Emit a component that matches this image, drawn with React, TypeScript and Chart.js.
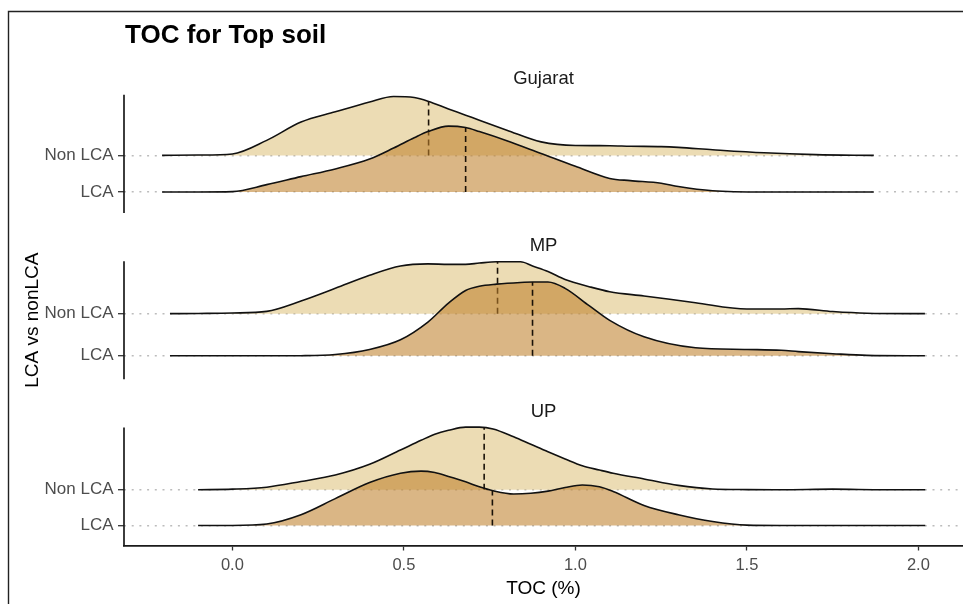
import React, { useEffect, useRef } from "react";
import { Chart, registerables } from "chart.js";

Chart.register(...registerables);

// ---------------- data ----------------
const panels = ["Gujarat", "MP", "UP"];
const groups = ["Non LCA", "LCA"];
const xTicks = [0, 0.5, 1, 1.5, 2];
const chartTitle = "TOC for Top soil";
const xTitle = "TOC (%)";
const yTitle = "LCA vs nonLCA";

// density heights (in ridge units above each group's baseline)
const gujaratX = [-0.205, -0.1, 0, 0.1, 0.2, 0.3, 0.4, 0.47, 0.53, 0.57, 0.63, 0.68, 0.72, 0.8, 0.9, 1.0, 1.1, 1.16, 1.25, 1.3, 1.4, 1.55, 1.7, 1.87];
const gujaratNonLCA = [0, 0.01, 0.04, 0.41, 0.91, 1.19, 1.46, 1.61, 1.58, 1.48, 1.27, 1.1, 0.96, 0.69, 0.37, 0.27, 0.265, 0.25, 0.24, 0.22, 0.155, 0.07, 0.02, 0];
const gujaratLCA = [0, 0, 0.01, 0.2, 0.42, 0.63, 0.9, 1.2, 1.48, 1.65, 1.8, 1.76, 1.65, 1.4, 1.05, 0.7, 0.37, 0.31, 0.24, 0.15, 0.035, 0, 0, 0];

const mpX = [-0.182, -0.1, 0, 0.1, 0.2, 0.3, 0.4, 0.49, 0.57, 0.63, 0.68, 0.72, 0.77, 0.84, 0.875, 0.92, 0.97, 1.04, 1.1, 1.2, 1.35, 1.5, 1.6, 1.65, 1.75, 1.85, 2.019];
const mpNonLCA = [0, 0.005, 0.015, 0.055, 0.3, 0.6, 0.91, 1.13, 1.18, 1.17, 1.17, 1.2, 1.23, 1.23, 1.13, 1.0, 0.81, 0.64, 0.52, 0.42, 0.26, 0.11, 0.11, 0.12, 0.05, 0.01, 0];
const mpLCA = [0, 0, 0, 0, 0.003, 0.03, 0.15, 0.38, 0.8, 1.25, 1.55, 1.65, 1.7, 1.74, 1.75, 1.75, 1.6, 1.19, 0.84, 0.45, 0.19, 0.15, 0.13, 0.1, 0.05, 0.01, 0];

const upX = [-0.1, 0, 0.1, 0.2, 0.3, 0.4, 0.49, 0.55, 0.59, 0.63, 0.68, 0.72, 0.76, 0.82, 0.87, 0.92, 0.97, 1.02, 1.07, 1.11, 1.2, 1.3, 1.4, 1.5, 1.6, 1.75, 1.9, 2.02];
const upNonLCA = [0, 0.015, 0.07, 0.23, 0.41, 0.71, 1.11, 1.38, 1.55, 1.66, 1.75, 1.75, 1.7, 1.48, 1.27, 1.06, 0.86, 0.67, 0.55, 0.46, 0.3, 0.12, 0.02, 0.003, 0, 0.015, 0, 0];
const upLCA = [0, 0, 0.04, 0.3, 0.75, 1.2, 1.46, 1.52, 1.48, 1.37, 1.22, 1.08, 0.97, 0.88, 0.9, 0.96, 1.06, 1.13, 1.08, 0.95, 0.56, 0.3, 0.11, 0.01, 0, 0, 0, 0];

// medians (dashed quantile lines)
const medianNonLCA = [0.572, 0.773, 0.734];
const medianLCA = [0.68, 0.875, 0.758];

// y range of each panel (ridge units): bottom and top of panel
const panelYMin = [0.428, 0.445, 0.44];
const panelYTop = [3.654, 3.245, 3.74];
const xRange = [-0.316, 2.13];

// ---------------- styling / layout ----------------
const FONT = '"Liberation Sans", Arial, Helvetica, sans-serif';
const NON_FILL = "rgba(223,194,125,0.58)";
const LCA_FILL = "rgba(191,129,45,0.58)";
const STRIP_FRAC = 48.3 / 166.4;
const baseline = { "Non LCA": 2, LCA: 1 } as Record<string, number>;

const panelX = [gujaratX, mpX, upX];
const panelNon = [gujaratNonLCA, mpNonLCA, upNonLCA];
const panelLCA = [gujaratLCA, mpLCA, upLCA];
const axisIds = ["yG", "yM", "yU"];

function interp(xs: number[], ys: number[], x: number) {
  for (let i = 1; i < xs.length; i++) {
    if (x <= xs[i]) {
      const t = (x - xs[i - 1]) / (xs[i] - xs[i - 1]);
      return ys[i - 1] + t * (ys[i] - ys[i - 1]);
    }
  }
  return ys[ys.length - 1];
}

function buildDatasets() {
  const ds: any[] = [];
  panels.forEach((_, p) => {
    const xs = panelX[p];
    groups.forEach((g) => {
      const hs = g === "LCA" ? panelLCA[p] : panelNon[p];
      const b = baseline[g];
      const med = g === "LCA" ? medianLCA[p] : medianNonLCA[p];
      const isL = g === "LCA";
      ds.push({
        label: `${panels[p]} ${g}`,
        data: xs.map((x, i) => ({ x, y: b + hs[i] })),
        yAxisID: axisIds[p],
        xAxisID: "x",
        borderColor: "#111",
        borderWidth: 1.6,
        backgroundColor: isL ? LCA_FILL : NON_FILL,
        fill: { value: b },
        pointRadius: 0,
        cubicInterpolationMode: "monotone",
        order: isL ? 2 : 4,
      });
      ds.push({
        label: `${panels[p]} ${g} median`,
        data: [
          { x: med, y: b },
          { x: med, y: b + interp(xs, hs, med) },
        ],
        yAxisID: axisIds[p],
        xAxisID: "x",
        borderColor: "#1a1208",
        borderWidth: 1.6,
        borderDash: [6, 4],
        pointRadius: 0,
        fill: false,
        order: isL ? 1 : 3,
      });
    });
  });
  return ds;
}

const decorPlugin = {
  id: "ridgeDecor",
  afterDraw(chart: any) {
    const { ctx, chartArea } = chart;
    ctx.save();
    // frame of the figure
    ctx.strokeStyle = "#222";
    ctx.lineWidth = 1.4;
    ctx.beginPath();
    ctx.moveTo(8.5, 604);
    ctx.lineTo(8.5, 11.5);
    ctx.lineTo(963, 11.5);
    ctx.stroke();

    // title
    ctx.fillStyle = "#000";
    ctx.font = `bold 26px ${FONT}`;
    ctx.textAlign = "left";
    ctx.textBaseline = "alphabetic";
    ctx.fillText(chartTitle, chartArea.left + 1, 42.5);

    const cx = (chartArea.left + chartArea.right) / 2;
    let firstTop = 0;
    panels.forEach((name, i) => {
      const s = chart.scales[axisIds[i]];
      const yTop = s.getPixelForValue(panelYTop[i]);
      const yBot = s.getPixelForValue(panelYMin[i]);
      if (i === 0) firstTop = yTop;
      ctx.strokeStyle = "#1a1a1a";
      ctx.lineWidth = 1.7;
      ctx.beginPath();
      ctx.moveTo(chartArea.left, yTop);
      ctx.lineTo(chartArea.left, yBot + (i === 2 ? 0.8 : 0));
      ctx.stroke();
      ctx.fillStyle = "#1a1a1a";
      ctx.font = `18.5px ${FONT}`;
      ctx.textAlign = "center";
      ctx.textBaseline = "alphabetic";
      ctx.fillText(name, cx, yTop - 10.5);
    });

    // axis titles
    ctx.fillStyle = "#000";
    ctx.font = `19px ${FONT}`;
    ctx.textAlign = "center";
    ctx.textBaseline = "alphabetic";
    ctx.fillText(xTitle, cx, 593.5);

    ctx.save();
    ctx.translate(38, (firstTop + chartArea.bottom) / 2);
    ctx.rotate(-Math.PI / 2);
    ctx.fillText(yTitle, 0, 0);
    ctx.restore();

    ctx.restore();
  },
};

function buildScales() {
  const scales: any = {
    x: {
      type: "linear",
      position: "bottom",
      min: xRange[0],
      max: xRange[1],
      afterBuildTicks: (s: any) => {
        s.ticks = xTicks.map((v) => ({ value: v }));
      },
      afterFit: (s: any) => {
        s.height = 58.5;
      },
      ticks: {
        callback: (v: any) => Number(v).toFixed(1),
        font: { family: FONT, size: 16.5 },
        color: "#4d4d4d",
        padding: 5,
        maxRotation: 0,
        autoSkip: false,
      },
      grid: {
        drawOnChartArea: false,
        drawTicks: true,
        tickLength: 5,
        tickColor: "#333",
        tickWidth: 1.3,
      },
      border: { display: true, color: "#1a1a1a", width: 1.7 },
    },
  };
  axisIds.forEach((id, i) => {
    const min = panelYMin[i];
    const max = min + (panelYTop[i] - min) / (1 - STRIP_FRAC);
    scales[id] = {
      type: "linear",
      position: "left",
      stack: "ridges",
      stackWeight: 1,
      weight: 3 - i,
      min,
      max,
      afterBuildTicks: (s: any) => {
        s.ticks = [{ value: baseline.LCA }, { value: baseline["Non LCA"] }];
      },
      afterFit: (s: any) => {
        s.width = 124;
      },
      ticks: {
        callback: (v: any) => (v === baseline["Non LCA"] ? groups[0] : groups[1]),
        font: { family: FONT, size: 17 },
        color: "#4d4d4d",
        padding: 4.5,
      },
      grid: {
        color: "#bcbcbc",
        lineWidth: 1.4,
        drawTicks: true,
        tickLength: 6,
        tickColor: "#333",
        tickWidth: 1.3,
        tickBorderDash: [],
      },
      border: { display: false, dash: [2, 5.7] },
    };
  });
  return scales;
}

export default function App() {
  const ref = useRef<HTMLCanvasElement>(null);
  useEffect(() => {
    if (!ref.current) return;
    const chart = new Chart(ref.current, {
      type: "line",
      data: { datasets: buildDatasets() },
      options: {
        responsive: false,
        animation: false,
        devicePixelRatio: 1,
        layout: { padding: { top: 46.6, left: 0, right: 0, bottom: 0 } },
        plugins: {
          legend: { display: false },
          tooltip: { enabled: false },
          title: { display: false },
        },
        scales: buildScales(),
      } as any,
      plugins: [decorPlugin],
    });
    return () => chart.destroy();
  }, []);
  return (
    <div style={{ position: "fixed", left: 0, top: 0, width: 963, height: 604, background: "#fff" }}>
      <canvas ref={ref} width={963} height={604} style={{ display: "block", width: 963, height: 604 }} />
    </div>
  );
}
